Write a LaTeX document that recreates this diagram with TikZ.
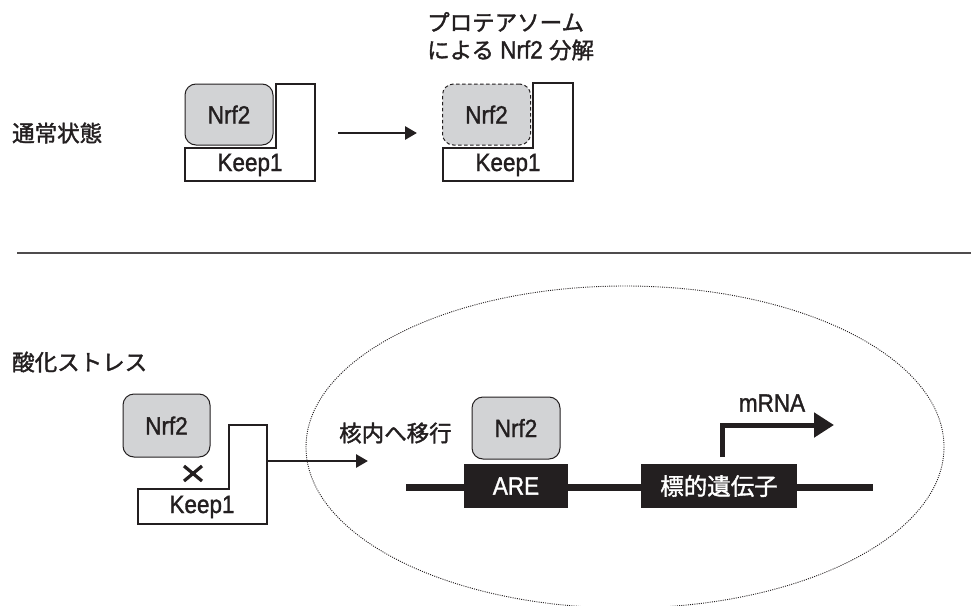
\documentclass[tikz,border=0pt]{standalone}
\usepackage{fontspec}
\setmainfont{Liberation Sans}[FakeStretch=0.9, FakeBold=1.3]
\newfontfamily\cjk{Noto Sans CJK JP}[FakeBold=1.6]
\usetikzlibrary{arrows.meta}
\definecolor{ink}{HTML}{231F20}
\definecolor{nrfgray}{HTML}{D2D3D5}
\begin{document}
\begin{tikzpicture}[x=1pt,y=-1pt,
  nrf/.style={draw=ink, fill=nrfgray, rounded corners=11pt, minimum width=88pt,
    minimum height=61pt, line width=1pt, inner sep=0pt, text=ink,
    font=\fontsize{25}{25}\selectfont},
  keepline/.style={draw=ink, line width=1.2pt, fill=white},
  lab/.style={text=ink, inner sep=0pt, font=\fontsize{25}{25}\selectfont},
  jlab/.style={text=ink, inner sep=0pt, font=\cjk\fontsize{22.5}{22.5}\selectfont},
  arr/.style={draw=ink, line width=2.8pt, -{Triangle[length=12pt,width=13pt]}},
  blk/.style={fill=ink, text=white, inner sep=0pt, minimum height=44pt},
]
\useasboundingbox (0,0) rectangle (971,605);

% ---- top: normal state ----
\node[jlab, anchor=west] (normal) at (12,133) {通常状態};

\draw[keepline] (185,148) -- (276,148) -- (276,84) -- (315,84) -- (315,181) -- (185,181) -- cycle;
\node[nrf] (n1) at (229,114.5) {Nrf2};
\node[lab] (k1) at (250,165) {Keep1};

\coordinate (a1s) at (338,133);
\coordinate (a1e) at (417,133);
\draw[arr] (a1s) -- (a1e);

\draw[keepline] (443,148) -- (533,148) -- (533,83) -- (573,83) -- (573,181) -- (443,181) -- cycle;
\node[nrf, dashed, dash pattern=on 3.5pt off 2.5pt] (n2) at (486.5,114.5) {Nrf2};
\node[lab] (k2) at (508,165) {Keep1};

\node[jlab, anchor=west] (t1) at (427,22) {プロテアソーム};
\node[lab, anchor=west] (t2) at (427,50) {{\cjk\fontsize{22.5}{22.5}\selectfont による} Nrf2 {\cjk\fontsize{22.5}{22.5}\selectfont 分解}};

% ---- separator ----
\coordinate (sepL) at (17,253);
\coordinate (sepR) at (971,253);
\draw[line width=1.5pt, draw=ink!80] (sepL) -- (sepR);

% ---- bottom: oxidative stress ----
\node[jlab, anchor=west] (stress) at (12,362) {酸化ストレス};

\begin{scope}
  \clip (0,0) rectangle (971,605);
  \draw[draw=ink, line width=0.9pt, dash pattern=on 1pt off 1.2pt] (625,447) ellipse [x radius=319, y radius=161];
\end{scope}

\draw[keepline] (138,489) -- (229,489) -- (229,425) -- (267,425) -- (267,524) -- (138,524) -- cycle;
\node[nrf, minimum width=87pt, minimum height=63pt] (n3) at (166.5,425.5) {Nrf2};
\node[lab] (k3) at (202,507) {Keep1};
\draw[draw=ink, line width=3.2pt] (184,466) -- (202,481) (184,481) -- (202,466);

\coordinate (a2s) at (267,461);
\coordinate (a2e) at (368,461);
\draw[arr] (a2s) -- (a2e);

\node[jlab, anchor=west] (move) at (339,433) {核内へ移行};
\node[nrf, minimum height=62pt] (n4) at (516,428) {Nrf2};

\coordinate (dnaL) at (406,487);
\coordinate (dnaR) at (873,487);
\draw[draw=ink, line width=7pt] (dnaL) -- (dnaR);
\node[blk, minimum width=104pt, font=\fontsize{25}{25}\selectfont] (are) at (516,486) {ARE};
\node[blk, minimum width=156pt, font=\cjk\fontsize{23.5}{23.5}\selectfont] (gene) at (719,486) {標的遺伝子};

\coordinate (m0) at (722,457);
\coordinate (m1) at (834,425);
\draw[draw=ink, line width=5pt, line join=miter, -{Triangle[length=20pt,width=24pt]}] (m0) |- (m1);
\node[lab] (mrna) at (772,403) {mRNA};
\end{tikzpicture}
\end{document}
